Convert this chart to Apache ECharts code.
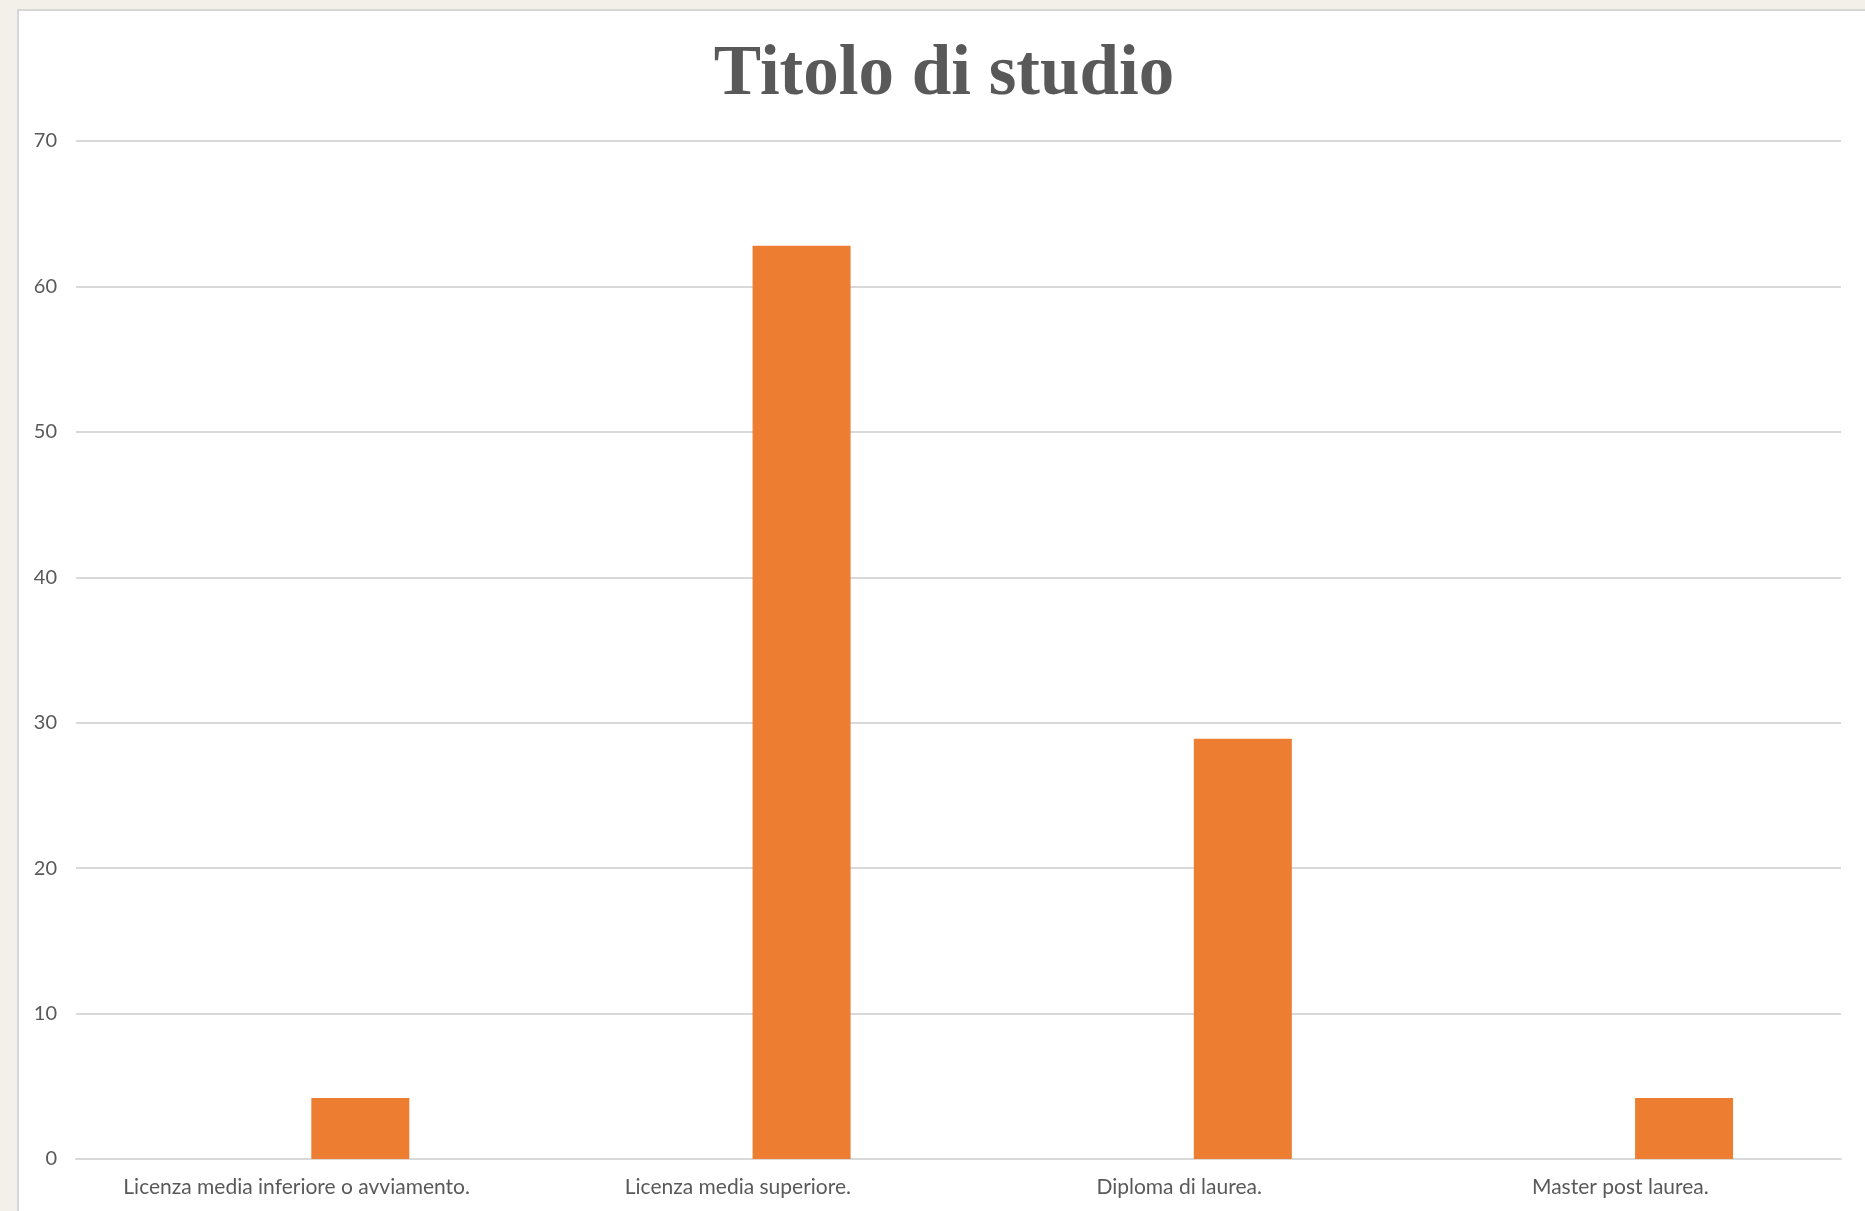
<!DOCTYPE html>
<html>
<head>
<meta charset="utf-8">
<title>Titolo di studio</title>
<script src="https://cdn.jsdelivr.net/npm/echarts@6/dist/echarts.min.js"></script>
<style>
  html, body { margin: 0; padding: 0; width: 1865px; height: 1211px; overflow: hidden; background: #f3f0e9; }
  #chart { width: 1865px; height: 1211px; }
</style>
</head>
<body>
<div id="chart"></div>
<script>
// Categories and values (percent)
const categories = [
  'Licenza media inferiore o avviamento.',
  'Licenza media superiore.',
  'Diploma di laurea.',
  'Master post laurea.'
];
const values = [4.2, 62.8, 28.9, 4.2];
// Empty first series of the cluster: holds the slot to the left of each bar
const emptySlot = ['-', '-', '-', '-'];
const yTicks = { min: 0, max: 70, interval: 10 };

const chart = echarts.init(document.getElementById('chart'), null, { renderer: 'canvas' });

const textGray = '#595959';
const gridGray = '#d9d9d9';

chart.setOption({
  backgroundColor: '#f3f0e9',
  animation: false,
  graphic: [
    {
      type: 'rect',
      z: -10,
      shape: { x: 18, y: 10, width: 1900, height: 1300 },
      style: { fill: '#ffffff', stroke: '#d6d6d6', lineWidth: 2 }
    }
  ],
  title: {
    text: 'Titolo di studio',
    left: 939,
    textAlign: 'center',
    top: 36,
    textStyle: {
      fontFamily: '"Liberation Serif", "Times New Roman", serif',
      fontWeight: 'bold',
      fontSize: 71,
      lineHeight: 70,
      color: textGray
    }
  },
  grid: {
    left: 76,
    right: 24,
    top: 141,
    bottom: 52,
    containLabel: false
  },
  xAxis: {
    type: 'category',
    data: categories,
    axisTick: { show: false },
    axisLine: { show: true, lineStyle: { color: gridGray, width: 2 } },
    axisLabel: {
      color: textGray,
      fontFamily: 'Lato, "Open Sans", sans-serif',
      fontSize: 21,
      margin: 18,
      interval: 0
    }
  },
  yAxis: {
    type: 'value',
    min: yTicks.min,
    max: yTicks.max,
    interval: yTicks.interval,
    axisLine: { show: false },
    axisTick: { show: false },
    splitLine: { lineStyle: { color: gridGray, width: 2 } },
    axisLabel: {
      color: textGray,
      fontFamily: 'Lato, "Open Sans", sans-serif',
      fontSize: 20,
      margin: 19
    }
  },
  series: [
    {
      name: '',
      type: 'bar',
      data: emptySlot,
      barWidth: 98,
      barGap: '30%',
      itemStyle: { color: 'transparent' }
    },
    {
      name: 'Titolo di studio',
      type: 'bar',
      data: values,
      barWidth: 98,
      barGap: '30%',
      itemStyle: { color: '#ed7d31' }
    }
  ]
});
</script>
</body>
</html>
